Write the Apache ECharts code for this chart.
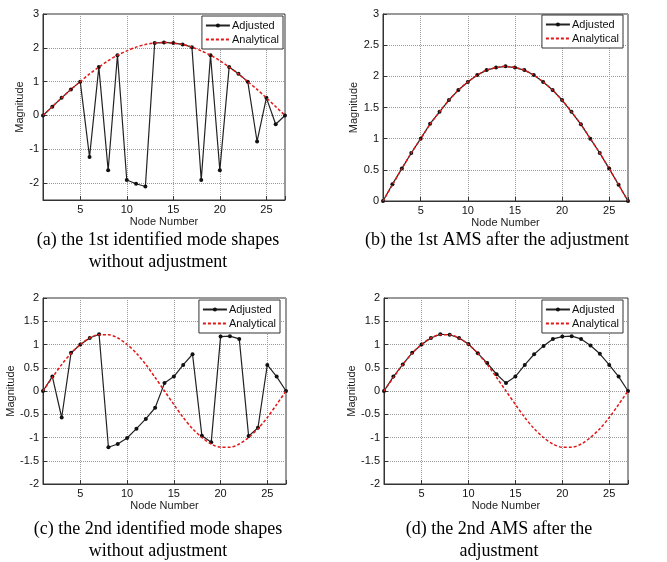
<!DOCTYPE html>
<html><head><meta charset="utf-8">
<script src="https://cdn.jsdelivr.net/npm/echarts@6/dist/echarts.min.js"></script>
<style>html,body{margin:0;padding:0;background:#fff}#c{width:667px;height:562px}</style>
</head><body><div id="c"></div>
<script>
const nodes = [1,2,3,4,5,6,7,8,9,10,11,12,13,14,15,16,17,18,19,20,21,22,23,24,25,26,27];
const mode1Analytical = [0,0.26,0.52,0.77,1.00,1.23,1.43,1.62,1.78,1.91,2.02,2.10,2.14,2.16,2.14,2.10,2.02,1.91,1.78,1.62,1.43,1.23,1.00,0.77,0.52,0.26,0];
const mode1Identified = [0,0.26,0.52,0.77,1.00,-1.23,1.43,-1.62,1.78,-1.91,-2.02,-2.10,2.14,2.16,2.14,2.10,2.02,-1.91,1.78,-1.62,1.43,1.23,1.00,-0.77,0.52,-0.26,0];
const mode1Adjusted = [0,0.27,0.52,0.77,1.00,1.24,1.43,1.62,1.78,1.91,2.02,2.10,2.14,2.16,2.14,2.10,2.02,1.91,1.78,1.62,1.43,1.23,1.00,0.77,0.52,0.26,0];
const mode2Analytical = [0,0.29,0.57,0.81,1.00,1.14,1.21,1.21,1.14,1.00,0.81,0.57,0.29,0,-0.29,-0.57,-0.81,-1.00,-1.14,-1.21,-1.21,-1.14,-1.00,-0.81,-0.57,-0.29,0];
const mode2Identified = [0,0.31,-0.57,0.82,1.00,1.14,1.22,-1.21,-1.14,-1.01,-0.81,-0.60,-0.36,0.17,0.31,0.56,0.79,-0.96,-1.10,1.17,1.18,1.12,-0.97,-0.79,0.56,0.31,0];
const mode2Adjusted = [0,0.31,0.57,0.82,1.00,1.14,1.22,1.21,1.14,1.01,0.81,0.60,0.36,0.17,0.31,0.56,0.79,0.97,1.12,1.17,1.18,1.12,0.98,0.80,0.56,0.31,0];
const captions = ['(a) the 1st identified mode shapes\nwithout adjustment','(b) the 1st AMS after the adjustment','(c) the 2nd identified mode shapes\nwithout adjustment','(d) the 2nd AMS after the\nadjustment'];
const legendNames = ['Adjusted','Analytical'];

const panels = [
  {adj: mode1Identified, ana: mode1Analytical, yMin: -2.5, yMax: 3, grid:{left:43,top:14,width:242,height:186}, legend:{right:384,top:16}, cap:[158,229]},
  {adj: mode1Adjusted, ana: mode1Analytical, yMin: 0, yMax: 3, interval:0.5, grid:{left:383,top:14,width:245,height:187}, legend:{right:44,top:15}, cap:[497,229]},
  {adj: mode2Identified, ana: mode2Analytical, yMin: -2, yMax: 2, interval:0.5, grid:{left:43,top:298,width:243,height:186}, legend:{right:387,top:300}, cap:[158,518]},
  {adj: mode2Adjusted, ana: mode2Analytical, yMin: -2, yMax: 2, interval:0.5, grid:{left:384,top:298,width:244,height:186}, legend:{right:44,top:300}, cap:[499,518]}
];
const FONT = '"Liberation Sans", Arial, sans-serif';
const option = {backgroundColor:'#fff', animation:false, grid:[], xAxis:[], yAxis:[], series:[], legend:[], graphic:[]};
panels.forEach((p,i)=>{
  option.grid.push(Object.assign({show:true, borderColor:'#333', borderWidth:1, backgroundColor:'#fff'}, p.grid));
  option.xAxis.push({type:'value', gridIndex:i, min:1, max:27, splitNumber:5,
    name:'Node Number', nameLocation:'middle', nameGap:16, nameTextStyle:{fontFamily:FONT,fontSize:11,color:'#222'},
    axisLine:{show:true, onZero:false, lineStyle:{color:'#333'}},
    axisTick:{inside:true, length:4, lineStyle:{color:'#333'}},
    axisLabel:{fontFamily:FONT, fontSize:11, color:'#111', margin:4, formatter:v=> (v%5===0? String(v):'')},
    splitLine:{show:true, lineStyle:{color:'#9a9a9a', type:'dotted', width:1}}});
  const ya = {type:'value', gridIndex:i, min:p.yMin, max:p.yMax,
    name:'Magnitude', nameLocation:'middle', nameGap:16, nameTextStyle:{fontFamily:FONT,fontSize:11,color:'#222'},
    axisLine:{show:true, lineStyle:{color:'#333'}},
    axisTick:{inside:true, length:4, lineStyle:{color:'#333'}},
    axisLabel:{fontFamily:FONT, fontSize:11, color:'#111', margin:4, formatter:v=> (p.interval? String(v) : (Number.isInteger(v)? String(v):''))},
    splitLine:{show:true, lineStyle:{color:'#9a9a9a', type:'dotted', width:1}}};
  if (p.interval) ya.interval = p.interval; else ya.splitNumber = 5;
  option.yAxis.push(ya);
  option.series.push({name:legendNames[0], type:'line', xAxisIndex:i, yAxisIndex:i,
    data: nodes.map((n,k)=>[n,p.adj[k]]), symbol:'circle', symbolSize:4,
    itemStyle:{color:'#111'}, lineStyle:{color:'#222', width:1.2}, z:2});
  option.series.push({name:legendNames[1], type:'line', xAxisIndex:i, yAxisIndex:i,
    data: nodes.map((n,k)=>[n,p.ana[k]]), symbol:'none', smooth:0.3,
    itemStyle:{color:'#e01818'}, lineStyle:{color:'#e01818', width:1.5, type:[3,2]}, z:3});
  option.legend.push(Object.assign({orient:'vertical',
    data:[{name:legendNames[0]}, {name:legendNames[1], itemStyle:{opacity:0}}],
    backgroundColor:'#fff', borderColor:'#333', borderWidth:1, borderRadius:0,
    padding:[4,4,4,3], itemWidth:24, itemHeight:5, itemGap:3, selectedMode:false,
    textStyle:{fontFamily:FONT, fontSize:11, color:'#111', padding:[0,0,0,-3]}}, p.legend));
  option.graphic.push({type:'text', x:p.cap[0], y:p.cap[1], style:{text:captions[i], textAlign:'center', textVerticalAlign:'top',
    font:'18px "Liberation Serif", "Times New Roman", serif', lineHeight:22, fill:'#000'}});
});
const chart = echarts.init(document.getElementById('c'), null, {renderer:'canvas'});
chart.setOption(option);
</script></body></html>
